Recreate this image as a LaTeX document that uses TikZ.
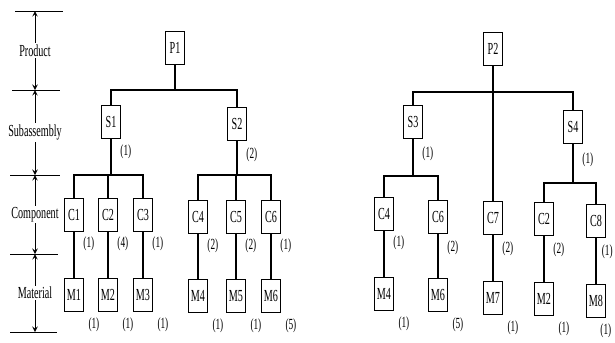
\documentclass[tikz,border=0pt]{standalone}
\usepackage{fontspec}
\setmainfont{Liberation Serif}[FakeStretch=0.6]
\usepackage{tikz}
\usetikzlibrary{positioning}

\tikzset{
  part/.style={draw, line width=0.9pt, minimum width=4.6mm, minimum height=8.4mm,
    inner sep=0.5pt, font=\fontsize{12}{13}\selectfont},
  qty/.style={inner sep=0.5pt, font=\fontsize{11}{12}\selectfont},
  lvl/.style={fill=white, inner sep=1pt, font=\fontsize{12}{13}\selectfont},
  tick/.style={line width=0.7pt},
}

\begin{document}
\begin{tikzpicture}[x=0.25mm, y=-0.25mm, line width=1.1pt]
    \useasboundingbox (0,0) rectangle (615,342);
    % level scale
    \coordinate (l0) at (35,11);
    \coordinate (l1) at (35,90);
    \coordinate (l2) at (35,175);
    \coordinate (l3) at (35,254);
    \coordinate (l4) at (35,332);
    \draw[tick] (15,11) -- (63,11);
    \draw[tick] (12,90) -- (60,90);
    \draw[tick] (10,175) -- (60,175);
    \draw[tick] (10,254) -- (58,254);
    \draw[tick] (10,332) -- (57,332);
    \draw[tick, <->, >=stealth] (l0) -- node[lvl] (lp) {Product} (l1);
    \draw[tick, <->, >=stealth] (l1) -- node[lvl] (ls) {Subassembly} (l2);
    \draw[tick, <->, >=stealth] (l2) -- node[lvl] (lc) {Component} (l3);
    \draw[tick, <->, >=stealth] (l3) -- node[lvl] (lm) {Material} (l4);

    % product P1
    \node[part] (P1) at (175,48) {P1};
    \node[part] (S1) at (111,122) {S1};
    \node[part] (S2) at (237,124) {S2};
    \node[part] (C1) at (74,215) {C1};
    \node[part] (C2) at (108,215) {C2};
    \node[part] (C3) at (143,215) {C3};
    \node[part] (C4) at (198,217) {C4};
    \node[part] (C5) at (236,217) {C5};
    \node[part] (C6) at (271,217) {C6};
    \node[part] (M1) at (74,295) {M1};
    \node[part] (M2) at (108,295) {M2};
    \node[part] (M3) at (143,295) {M3};
    \node[part] (M4) at (198,296) {M4};
    \node[part] (M5) at (236,296) {M5};
    \node[part] (M6) at (271,296) {M6};
    \coordinate (bP1) at (0,90);
    \coordinate (bS1) at (0,175);
    \coordinate (bS2) at (0,175);
    \draw (P1.south) -- (P1.south |- bP1) -| (S1.north);
    \draw (P1.south) -- (P1.south |- bP1) -| (S2.north);
    \draw (S1.south) -- node[qty, right=2mm, pos=0.35] (q1) {(1)} (S1.south |- bS1) -| (C1.north);
    \draw (S1.south) -- (S1.south |- bS1) -| (C2.north);
    \draw (S1.south) -- (S1.south |- bS1) -| (C3.north);
    \draw (S2.south) -- node[qty, right=2mm, pos=0.4] (q2) {(2)} (S2.south |- bS2) -| (C4.north);
    \draw (S2.south) -- (S2.south |- bS2) -| (C5.north);
    \draw (S2.south) -- (S2.south |- bS2) -| (C6.north);
    \draw (C1) -- node[qty, right=2mm, pos=0.25] (q3) {(1)} (M1);
    \draw (C2) -- node[qty, right=2mm, pos=0.25] (q4) {(4)} (M2);
    \draw (C3) -- node[qty, right=2mm, pos=0.25] (q5) {(1)} (M3);
    \draw (C4) -- node[qty, right=2mm, pos=0.25] (q6) {(2)} (M4);
    \draw (C5) -- node[qty, right=2mm, pos=0.25] (q7) {(2)} (M5);
    \draw (C6) -- node[qty, right=2mm, pos=0.25] (q8) {(1)} (M6);
    \node[qty, below right=1mm and 0.8mm of M1.south east] (q9) {(1)};
    \node[qty, below right=1mm and 0.8mm of M2.south east] (q10) {(1)};
    \node[qty, below right=1mm and 0.8mm of M3.south east] (q11) {(1)};
    \node[qty, below right=1mm and 0.8mm of M4.south east] (q12) {(1)};
    \node[qty, below right=1mm and 0.8mm of M5.south east] (q13) {(1)};
    \node[qty, below right=1mm and 0.8mm of M6.south east] (q14) {(5)};

    % product P2
    \node[part] (P2) at (493,49) {P2};
    \node[part] (S3) at (413,122) {S3};
    \node[part] (S4) at (573,127) {S4};
    \node[part] (C4b) at (384,214) {C4};
    \node[part] (C6b) at (438,217) {C6};
    \node[part] (C7) at (493,218) {C7};
    \node[part] (C2b) at (544,219) {C2};
    \node[part] (C8) at (596,221) {C8};
    \node[part] (M4b) at (384,294) {M4};
    \node[part] (M6b) at (438,295) {M6};
    \node[part] (M7) at (493,298) {M7};
    \node[part] (M2b) at (544,299) {M2};
    \node[part] (M8) at (596,301) {M8};
    \coordinate (bP2) at (0,92);
    \coordinate (bS3) at (0,176);
    \coordinate (bS4) at (0,183);
    \draw (P2.south) -- (P2.south |- bP2) -| (S3.north);
    \draw (P2.south) -- (P2.south |- bP2) -| (S4.north);
    \draw (P2) -- (C7);
    \draw (S3.south) -- node[qty, right=2mm, pos=0.4] (q15) {(1)} (S3.south |- bS3) -| (C4b.north);
    \draw (S3.south) -- (S3.south |- bS3) -| (C6b.north);
    \draw (S4.south) -- node[qty, right=2mm, pos=0.4] (q16) {(1)} (S4.south |- bS4) -| (C2b.north);
    \draw (S4.south) -- (S4.south |- bS4) -| (C8.north);
    \draw (C4b) -- node[qty, right=2mm, pos=0.25] (q17) {(1)} (M4b);
    \draw (C6b) -- node[qty, right=2mm, pos=0.3] (q18) {(2)} (M6b);
    \draw (C7) -- node[qty, right=2mm, pos=0.3] (q19) {(2)} (M7);
    \draw (C2b) -- node[qty, right=2mm, pos=0.3] (q20) {(2)} (M2b);
    \draw (C8) -- node[qty, right=1.1mm, pos=0.3] (q21) {(1)} (M8);
    \node[qty, below right=1mm and 0.8mm of M4b.south east] (q22) {(1)};
    \node[qty, below right=1mm and 0.8mm of M6b.south east] (q23) {(5)};
    \node[qty, below right=1mm and 0.8mm of M7.south east] (q24) {(1)};
    \node[qty, below right=1mm and 0.8mm of M2b.south east] (q25) {(1)};
    \node[qty, below=1mm of M8.south east] (q26) {(1)};
\end{tikzpicture}
\end{document}
